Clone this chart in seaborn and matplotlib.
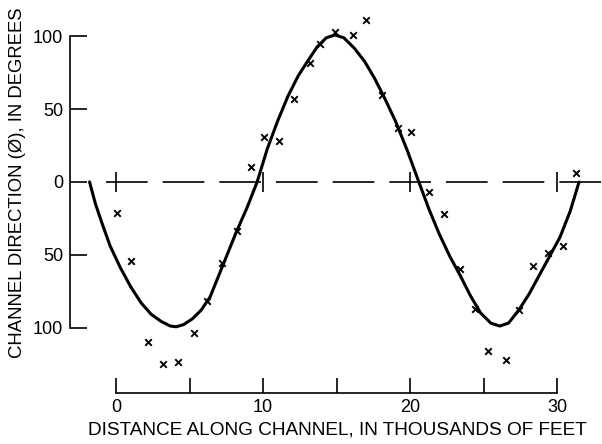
import numpy as np
import pandas as pd
import matplotlib
matplotlib.use("Agg")
import matplotlib.pyplot as plt
import seaborn as sns

# 측정값 (x: 수로 거리 천 피트, y: 수로 방향 도)
obs_x = [0.1, 1.0, 2.2, 3.2, 4.2, 5.3, 6.2, 7.2, 8.2, 9.2, 10.1, 11.1, 12.1, 13.2, 13.9, 14.9,
         16.1, 17.0, 18.1, 19.2, 20.1, 21.3, 22.3, 23.4, 24.4, 25.3, 26.5, 27.4, 28.4, 29.4, 30.4, 31.3]
obs_y = [-21, -54, -110, -125, -124, -104, -82, -56, -34, 10, 31, 28, 57, 82, 95, 103,
         101, 111, 60, 37, 34, -7, -22, -60, -87, -116, -122, -88, -58, -49, -44, 6]

# 손으로 그린 곡선 (그림에서 읽은 점)
curve_x = [-1.8, -1.4, -1.0, -0.4, 0.3, 1.0, 1.7, 2.4, 3.1, 3.7, 4.1, 4.6, 5.2, 5.8, 6.4, 7.0,
           7.6, 8.2, 8.9, 9.6, 10.3, 11.0, 11.7, 12.4, 13.1, 13.7, 14.3, 14.9, 15.5, 16.2, 16.9,
           17.6, 18.3, 19.0, 19.8, 20.6, 21.3, 22.0, 22.7, 23.4, 24.1, 24.8, 25.5, 26.1, 26.7,
           27.4, 28.1, 28.8, 29.5, 30.2, 30.9, 31.5]
curve_y = [0, -15, -27, -44, -59, -72, -83, -91, -96, -99, -99.5, -98, -94, -88, -79, -64,
           -49, -34, -18, 0, 23, 42, 59, 73, 84, 93, 99, 101, 99, 92, 83,
           71, 57, 42, 22, 0, -19, -36, -51, -64, -78, -90, -97, -99, -97,
           -88, -77, -64, -51, -38, -20, 0]

x_major = [0, 10, 20, 30]
x_minor = [5, 15, 25]
y_ticks = [100, 50, 0, -50, -100]
y_labels = ["100", "50", "0", "50", "100"]
wave_marks = [0, 10, 20, 30]

sns.set_style("ticks")
plt.rcParams['font.family'] = ['Liberation Sans', 'DejaVu Sans']

fig = plt.figure(figsize=(6.02, 4.44), dpi=100)
ax = fig.add_axes([70 / 602, 51 / 444, 532 / 602, 393 / 444])

df_curve = pd.DataFrame({'x': curve_x, 'y': curve_y})
df_obs = pd.DataFrame({'x': obs_x, 'y': obs_y})

sns.lineplot(data=df_curve, x='x', y='y', sort=False, color='black', lw=2.2, ax=ax)
sns.scatterplot(data=df_obs, x='x', y='y', marker='x', color='black', s=22,
                linewidth=1.4, ax=ax)

# 0도 점선과 파장 표시
ax.plot([-0.7, 34], [0, 0], color='black', lw=1.2, ls=(0, (25, 9)))
ax.vlines(wave_marks, -7, 7, color='black', lw=1.2)

ax.set_xlim(-3.13, 33.06)
ax.set_ylim(-145, 125)

ax.spines['top'].set_visible(False)
ax.spines['right'].set_visible(False)
ax.spines['left'].set_bounds(-100, 100)
ax.spines['bottom'].set_bounds(0, 30)
for s in ['left', 'bottom']:
    ax.spines[s].set_linewidth(1.2)
    ax.spines[s].set_color('black')

ax.set_xticks(x_major)
ax.set_xticks(x_minor, minor=True)
ax.set_yticks(y_ticks)
ax.set_yticklabels(y_labels)
ax.tick_params(axis='x', which='both', direction='in', length=11, width=1.2,
               pad=4, labelsize=13, color='black', labelcolor='black')
ax.tick_params(axis='y', direction='in', length=12, width=1.2, pad=5, labelsize=13,
               color='black', labelcolor='black')

ax.set_xlabel('')
ax.set_ylabel('')
fig.text(18 / 602, 1 - 183 / 444, 'CHANNEL DIRECTION (Ø), IN DEGREES', rotation=90,
         ha='center', va='center', fontsize=13.3, color='black')
fig.text(337 / 602, 1 - 430 / 444, 'DISTANCE ALONG CHANNEL, IN THOUSANDS OF FEET',
         ha='center', va='center', fontsize=13.7, color='black')

fig.savefig('out.png', dpi=100)
